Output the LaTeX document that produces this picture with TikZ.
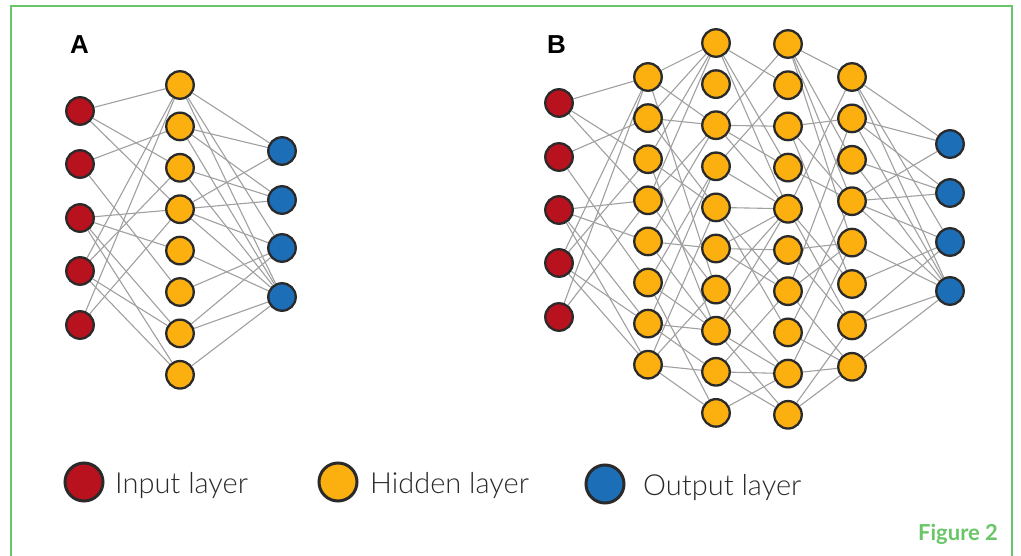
\documentclass[tikz,border=0pt]{standalone}
\usepackage{fontspec}
\setmainfont{Lato}
\newfontfamily\panelfont{Liberation Sans}
\newfontfamily\keyfont{Lato}[UprightFont=* Light]
\usetikzlibrary{backgrounds}

\definecolor{inred}{HTML}{B8121E}
\definecolor{hidamber}{HTML}{FBB010}
\definecolor{outblue}{HTML}{1C6EB7}
\definecolor{rim}{HTML}{2A2A2A}
\definecolor{wire}{HTML}{A0A0A0}
\definecolor{framegreen}{HTML}{6AC568}
\definecolor{legendtext}{HTML}{2A2A2A}

\tikzset{
  neuron/.style={circle, draw=rim, line width=2.3pt, minimum size=27.5pt, inner sep=0pt},
  innode/.style={neuron, fill=inred},
  hidnode/.style={neuron, fill=hidamber},
  outnode/.style={neuron, fill=outblue},
  keynode/.style={circle, draw=rim, line width=3pt, minimum size=38pt, inner sep=0pt},
  wire/.style={draw=wire, line width=1.1pt},
  keytext/.style={anchor=base west, inner sep=0pt, font=\keyfont\fontsize{29}{31}\selectfont, text=legendtext},
  paneltag/.style={anchor=base west, inner sep=0pt, font=\panelfont\bfseries\fontsize{26}{28}\selectfont},
}

\begin{document}
\begin{tikzpicture}[x=1pt, y=-1pt]
\useasboundingbox (0,0) rectangle (1021,556);

% ---------- panel A ----------
\node[paneltag] (tagA) at (70,54) {A};
\foreach \y [count=\k] in {111,164,218,271,325}
  \node[innode] (A-i\k) at (80,\y) {};
\foreach \k in {1,...,8}
  \node[hidnode] (A-h\k) at (180,{85+41.4*(\k-1)}) {};
\foreach \y [count=\k] in {151,200,248,297}
  \node[outnode] (A-o\k) at (282,\y) {};

% ---------- panel B ----------
\node[paneltag] (tagB) at (547,54) {B};
\foreach \y [count=\k] in {103,157,210,263,317}
  \node[innode] (B-i\k) at (559,\y) {};
\foreach \k in {1,...,8}
  \node[hidnode] (B-a\k) at (648,{77+41.1*(\k-1)}) {};
\foreach \k in {1,...,10}
  \node[hidnode] (B-b\k) at (716,{43+41.1*(\k-1)}) {};
\foreach \k in {1,...,10}
  \node[hidnode] (B-c\k) at (788,{44+41.2*(\k-1)}) {};
\foreach \k in {1,...,8}
  \node[hidnode] (B-d\k) at (852,{77+41.4*(\k-1)}) {};
\foreach \y [count=\k] in {144,193,242,291}
  \node[outnode] (B-o\k) at (950,\y) {};

% ---------- connections ----------
\begin{scope}[on background layer]
  \fill[white] (0,0) rectangle (1021,556);
  % input -> hidden (same wiring in both panels)
  \foreach \s/\tl in {1/{1,3,4},2/{2,6},3/{4,5,7,8},4/{1,3,7,8},5/{1,4}}
    \foreach \t in \tl {
      \draw[wire] (A-i\s) -- (A-h\t);
      \draw[wire] (B-i\s) -- (B-a\t);
    }
  % last hidden -> output (same wiring in both panels)
  \foreach \s/\tl in {1/{1,3,4},2/{1,2,4},3/{2,4},4/{1,2,3,4},5/{4},6/{3},7/{3,4},8/{4}}
    \foreach \t in \tl {
      \draw[wire] (A-h\s) -- (A-o\t);
      \draw[wire] (B-d\s) -- (B-o\t);
    }
  % B: hidden 1 -> hidden 2
  \foreach \s/\tl in {1/{1,3,7},2/{1,3,5},3/{1,5,8},4/{1,3,7},5/{3,6,8},6/{4,8,10},7/{4,8,9},8/{5,7,9,10}}
    \foreach \t in \tl
      \draw[wire] (B-a\s) -- (B-b\t);
  % B: hidden 2 -> hidden 3
  \foreach \s/\tl in {1/{2,4,5},3/{1,3,4,5},4/{2,5},5/{5,7,8},6/{5,6,7},7/{5,9},8/{5,6,9,10},9/{7,9,10},10/{9}}
    \foreach \t in \tl
      \draw[wire] (B-b\s) -- (B-c\t);
  % B: hidden 3 -> hidden 4
  \foreach \s/\tl in {1/{1,3,4,5},3/{2,4,6},4/{4},5/{1,6,7},6/{5,7},7/{2,5,8},8/{4,8},9/{5,8},10/{7,8}}
    \foreach \t in \tl
      \draw[wire] (B-c\s) -- (B-d\t);
\end{scope}

% ---------- legend ----------
\node[keynode, fill=inred] (keyIn) at (84,482) {};
\node[keytext] (txtIn) at (115,493) {Input layer};
\node[keynode, fill=hidamber] (keyHid) at (338,482) {};
\node[keytext] (txtHid) at (370,493) {Hidden layer};
\node[keynode, fill=outblue] (keyOut) at (605,484) {};
\node[keytext] (txtOut) at (643,495) {Output layer};

% ---------- frame and caption ----------
\draw[framegreen, line width=2.6pt] (11,560) -- (11,6) -- (1012,6) -- (1012,560);
\node[anchor=base west, inner sep=0pt, text=framegreen, font=\bfseries\fontsize{22}{24}\selectfont] (caption) at (918,540) {Figure 2};
\end{tikzpicture}
\end{document}
